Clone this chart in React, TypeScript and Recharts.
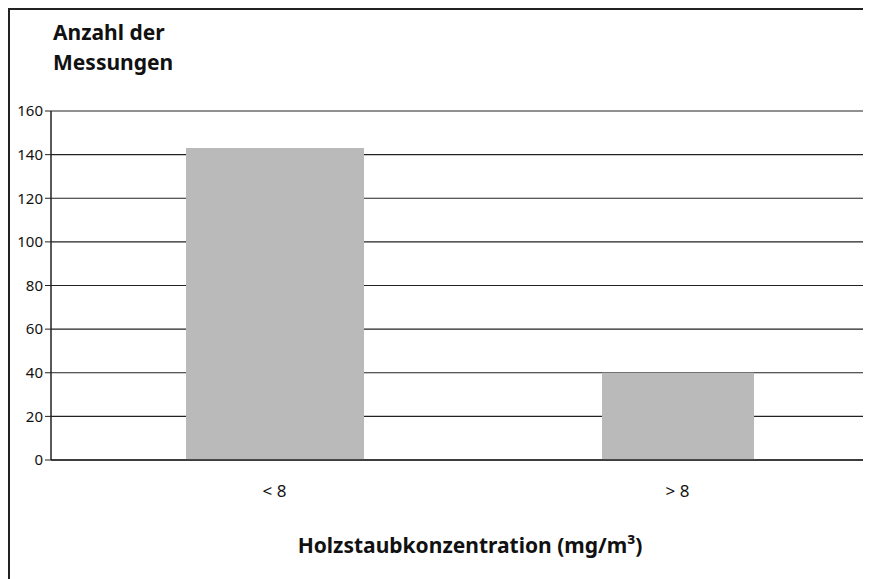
import { BarChart, Bar, CartesianGrid, XAxis, YAxis, Rectangle } from "recharts";

const categories = ["< 8", "> 8"];
const measurements = [143, 40];
const yTicks = [0, 20, 40, 60, 80, 100, 120, 140, 160];

const chartData = categories.map((category, index) => ({
  category,
  count: measurements[index],
}));

// the two bars in the original have different widths
const barWidths = [178, 152];

const textFont = "'Noto Sans', sans-serif";

function VariableWidthBar(props: any) {
  const { x, width, index } = props;
  const w = barWidths[index] ?? width;
  return <Rectangle {...props} x={x + (width - w) / 2} width={w} />;
}

export default function App() {
  return (
    <div
      style={{
        position: "relative",
        width: 900,
        height: 600,
        boxSizing: "border-box",
        borderTop: "2px solid #222",
        borderLeft: "2px solid #222",
        overflow: "hidden",
        fontFamily: textFont,
        background: "#fff",
      }}
    >
      <style>{"html, body { overflow: hidden; }"}</style>
      <div
        style={{
          position: "absolute",
          left: 43,
          top: 7,
          fontSize: 21,
          fontWeight: 700,
          lineHeight: "30px",
          color: "#111",
        }}
      >
        Anzahl der
        <br />
        Messungen
      </div>

      <BarChart
        width={869}
        height={569}
        data={chartData}
        margin={{ top: 101, right: 0, bottom: 79, left: 0 }}
      >
        <CartesianGrid vertical={false} stroke="#222" strokeWidth={1.2} />
        <XAxis
          dataKey="category"
          padding={{ left: 22, right: 0 }}
          axisLine={{ stroke: "#222", strokeWidth: 1.5 }}
          tickLine={false}
          tickMargin={19}
          height={40}
          tick={{ fill: "#111", fontSize: 17, fontFamily: textFont }}
        />
        <YAxis
          width={41}
          domain={[0, 160]}
          ticks={yTicks}
          interval={0}
          axisLine={{ stroke: "#222", strokeWidth: 1.5 }}
          tickLine={{ stroke: "#222" }}
          tickSize={6}
          tickMargin={2}
          tick={{ fill: "#111", fontSize: 15, fontFamily: textFont }}
        />
        <Bar
          dataKey="count"
          fill="#bababa"
          barSize={178}
          shape={VariableWidthBar}
          isAnimationActive={false}
        />
      </BarChart>

      <div
        style={{
          position: "absolute",
          left: 0,
          width: 920,
          textAlign: "center",
          top: 520,
          fontSize: 21,
          fontWeight: 700,
          lineHeight: "30px",
          color: "#111",
          whiteSpace: "nowrap",
        }}
      >
        Holzstaubkonzentration (mg/m³)
      </div>
    </div>
  );
}
